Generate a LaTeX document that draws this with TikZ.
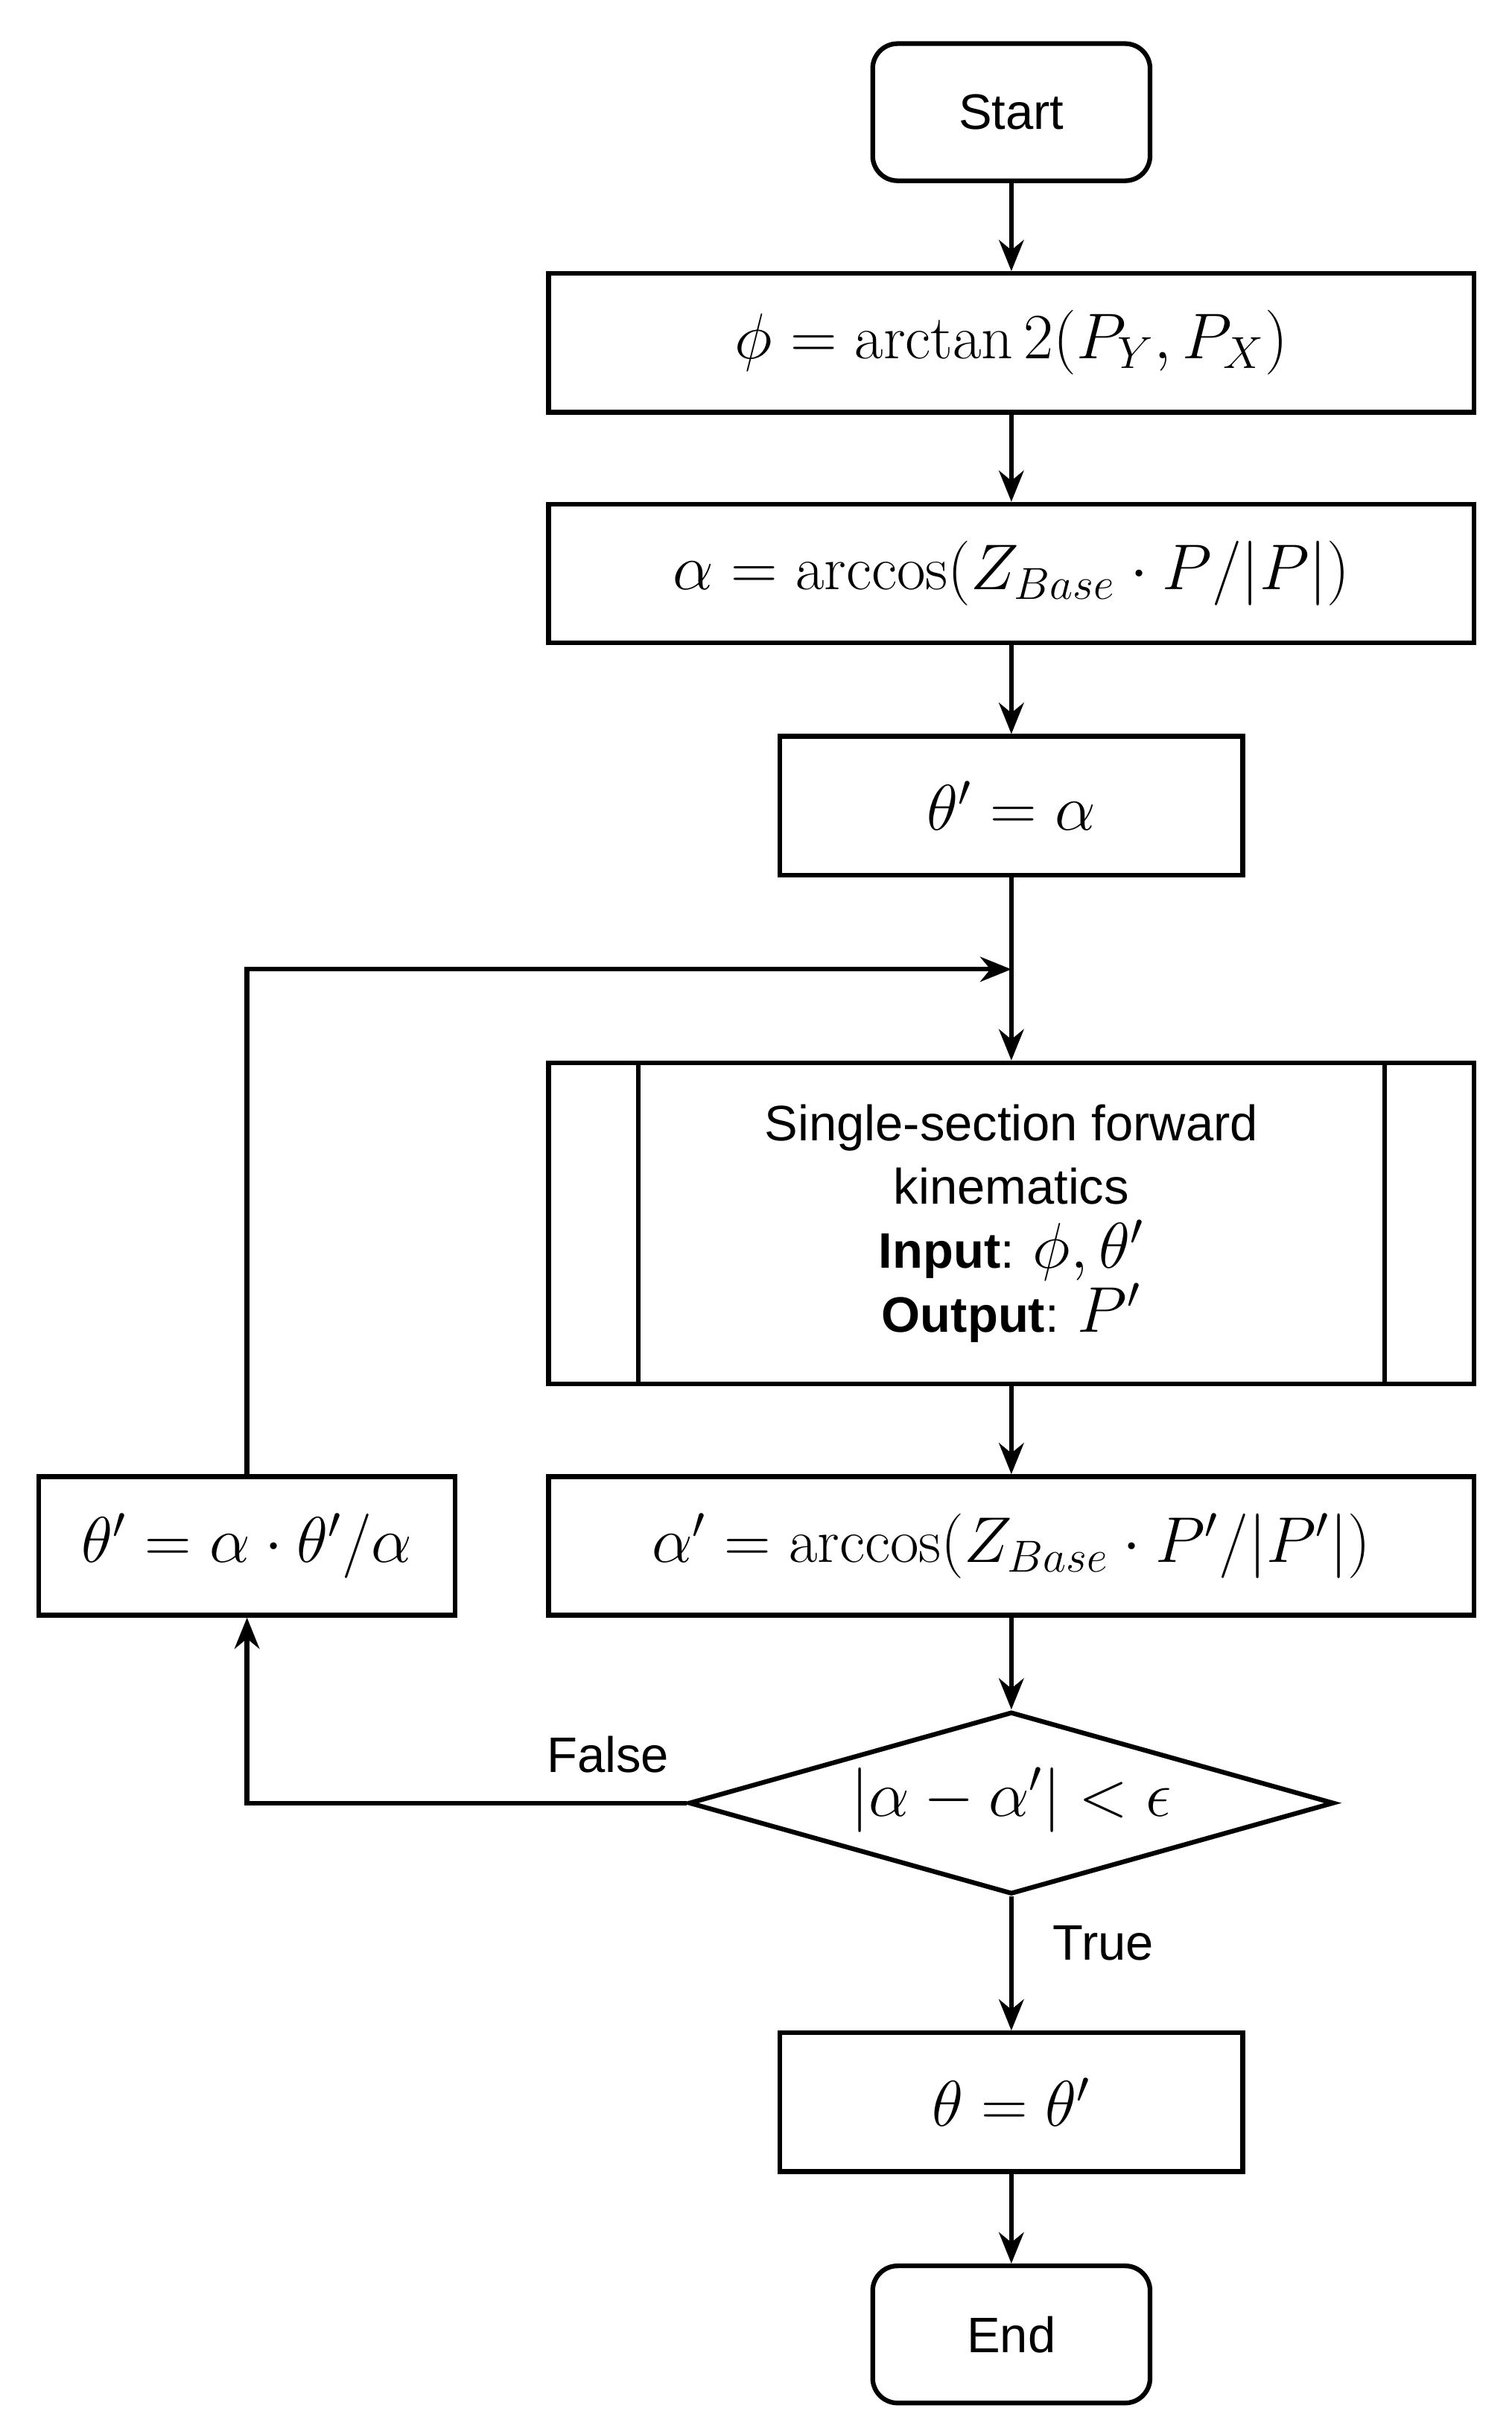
\documentclass[tikz,border=0pt]{standalone}
\usepackage{fontspec}
\setsansfont{Liberation Sans}
\usetikzlibrary{shapes.geometric,arrows.meta,calc}
\begin{document}
\begin{tikzpicture}[x=0.5pt,y=-0.5pt,line width=1.5pt,
  box/.style={draw,rectangle,inner sep=0pt,font=\fontsize{20}{24}\selectfont},
  term/.style={draw,rectangle,rounded corners=8pt,inner sep=0pt,font=\sffamily\fontsize{16}{19}\selectfont},
  arr/.style={-{Stealth[length=10pt,width=8pt]}},
  lbl/.style={font=\sffamily\fontsize{16}{19}\selectfont}]
\useasboundingbox (0,0) rectangle (970,1551);
\node[term,minimum width=89pt,minimum height=44pt] (start) at (649,72) {Start};
\node[box,minimum width=297pt,minimum height=44.5pt] (phi) at (649,220) {$\phi=\arctan2(P_Y,P_X)$};
\node[box,minimum width=297pt,minimum height=44.5pt] (alpha) at (649,368) {$\alpha=\arccos(Z_{Base}\cdot P/|P|)$};
\node[box,minimum width=148.5pt,minimum height=44.5pt] (th1) at (649,517) {$\theta'=\alpha$};
\coordinate (m) at (649,622);
\node[box,minimum width=297pt,minimum height=103pt,align=center,font=\sffamily\fontsize{16}{20.5}\selectfont] (sub) at (649,785) {Single-section forward\\kinematics\\\textbf{Input}: {\fontsize{20}{20}\selectfont$\phi,\theta'$}\\\textbf{Output}: {\fontsize{20}{20}\selectfont$P'$}};
\draw ($(sub.north west)+(29.5pt,0)$) -- ($(sub.south west)+(29.5pt,0)$);
\draw ($(sub.north east)+(-29.5pt,0)$) -- ($(sub.south east)+(-29.5pt,0)$);
\node[box,minimum width=297pt,minimum height=44.5pt] (alp) at (649,992) {$\alpha'=\arccos(Z_{Base}\cdot P'/|P'|)$};
\node[box,minimum width=133.5pt,minimum height=44.5pt] (upd) at (158.5,992) {$\theta'=\alpha\cdot\theta'/\alpha$};
\node[draw,diamond,aspect=3.54,inner sep=0pt,minimum width=207pt,minimum height=58.5pt,font=\fontsize{20}{24}\selectfont] (dec) at (649,1157) {};
\node[font=\fontsize{20}{24}\selectfont] at (649,1155) {$|\alpha-\alpha'|<\epsilon$};
\node[box,minimum width=148.5pt,minimum height=44.5pt] (th) at (649,1349) {$\theta=\theta'$};
\node[term,minimum width=89pt,minimum height=44pt] (end) at (649,1498) {End};
\draw[arr] (start) -- (phi);
\draw[arr] (phi) -- (alpha);
\draw[arr] (alpha) -- (th1);
\draw[arr] (th1) -- (sub);
\draw[arr] (sub) -- (alp);
\draw[arr] (alp) -- (dec.north);
\draw[arr] (dec.south) -- (th);
\draw[arr] (th) -- (end);
\draw[arr] (dec.west) -| (upd.south);
\draw[arr] (upd.north) |- (m);
\node[lbl] at (390,1126) {False};
\node[lbl] at (708,1247) {True};
\end{tikzpicture}
\end{document}
